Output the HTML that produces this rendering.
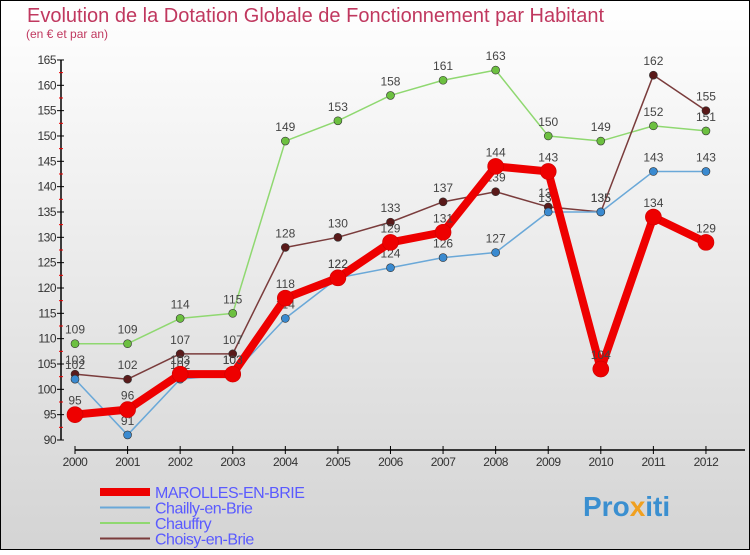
<!DOCTYPE html>
<html><head><meta charset="utf-8"><style>
html,body{margin:0;padding:0}
body{width:750px;height:550px;overflow:hidden;font-family:"Liberation Sans",sans-serif}
</style></head><body>
<svg id="c" width="750" height="550" xmlns="http://www.w3.org/2000/svg">
<defs><linearGradient id="bg" x1="0" y1="0" x2="0" y2="1"><stop offset="0" stop-color="#ffffff"/><stop offset="1" stop-color="#d4d4d4"/></linearGradient></defs>
<rect x="0.5" y="0.5" width="749" height="549" fill="url(#bg)" stroke="#000"/>
<text x="27" y="22" font-size="20" fill="#c0385f">Evolution de la Dotation Globale de Fonctionnement par Habitant</text>
<text x="26" y="38" font-size="12" fill="#c0385f">(en € et par an)</text>
<g id="axes"></g><g id="series"></g><g id="legend"></g>
<text x="583" y="516" font-size="28" font-weight="bold" fill="#3a8fd0">Pro<tspan fill="#f0a020">x</tspan>iti</text>
</svg>
<script>
const years=[2000,2001,2002,2003,2004,2005,2006,2007,2008,2009,2010,2011,2012];
const yTicks=[90,95,100,105,110,115,120,125,130,135,140,145,150,155,160,165];
const marolles=[95,96,103,103,118,122,129,131,144,143,104,134,129];
const chailly=[102,91,102,103,114,122,124,126,127,135,135,143,143];
const chauffry=[109,109,114,115,149,153,158,161,163,150,149,152,151];
const choisy=[103,102,107,107,128,130,133,137,139,136,135,162,155];
const NS="http://www.w3.org/2000/svg";
const X=i=>75+i*52.58, Y=v=>440-(v-90)*5.067;
function mk(t,a,p){const e=document.createElementNS(NS,t);for(const k in a)e.setAttribute(k,a[k]);p.appendChild(e);return e;}
const ax=document.getElementById('axes');
let l=mk('line',{x1:61,y1:60,x2:61,y2:440,stroke:'#000','stroke-width':1.5},ax);


l=mk('line',{x1:75,y1:450,x2:745,y2:450,stroke:'#000','stroke-width':1.5},ax);


yTicks.forEach((v,i)=>{mk('line',{x1:57,y1:Y(v),x2:64,y2:Y(v),stroke:'#000'},ax);
 if(i<yTicks.length-1)mk('line',{x1:59,y1:Y(v+2.5),x2:63,y2:Y(v+2.5),stroke:'#e00'},ax);
 const t=mk('text',{x:56,y:Y(v)+4,'text-anchor':'end','font-size':12,fill:'#333','letter-spacing':'-0.5'},ax);t.textContent=v;
 
 });
years.forEach((y,i)=>{mk('line',{x1:X(i),y1:446,x2:X(i),y2:454,stroke:'#000'},ax);
 const t=mk('text',{x:X(i),y:466,'text-anchor':'middle','font-size':12,fill:'#333','letter-spacing':'-0.5'},ax);t.textContent=y;
 
 });
const sg=document.getElementById('series');
const defs=[[chauffry,'#8fd870','#6cc040',1.5,4,'chauffry'],[choisy,'#7a3c3c','#5a1a1a',1.5,4,'choisy-en-brie'],[chailly,'#6aa8d8','#3a8ad0',1.5,4,'chailly-en-brie'],[marolles,'#ee0000','#ee0000',8,8,'marolles-en-brie']];
defs.forEach(([d,c,dc,w,r,n])=>{
 const p=mk('polyline',{points:d.map((v,i)=>X(i)+','+Y(v)).join(' '),fill:'none',stroke:c,'stroke-width':w,'stroke-linejoin':'round'},sg);
 
 
 d.forEach((v,i)=>{const cc=mk('circle',{cx:X(i),cy:Y(v),r:r,fill:dc,stroke:r>5?'#c00':'#333','stroke-width':0.6},sg);
  
  
  const t=mk('text',{x:X(i),y:Y(v)-10,'text-anchor':'middle','font-size':12,fill:'#444'},sg);t.textContent=v;
  
  });
});
const lg=document.getElementById('legend');
const leg=[['MAROLLES-EN-BRIE','#ee0000',8],['Chailly-en-Brie','#6aa8d8',2],['Chauffry','#8fd870',2],['Choisy-en-Brie','#7a3c3c',2]];
leg.forEach(([n,c,w],i)=>{const y=492+i*15.5;
 const a=mk('line',{x1:100,y1:y,x2:150,y2:y,stroke:c,'stroke-width':w},lg);
 
 
 const t=mk('text',{x:155,y:y+6,'font-size':16,fill:'#5a5aff','letter-spacing':'-0.5'},lg);t.textContent=n;
 
 });
</script>
</body></html>
